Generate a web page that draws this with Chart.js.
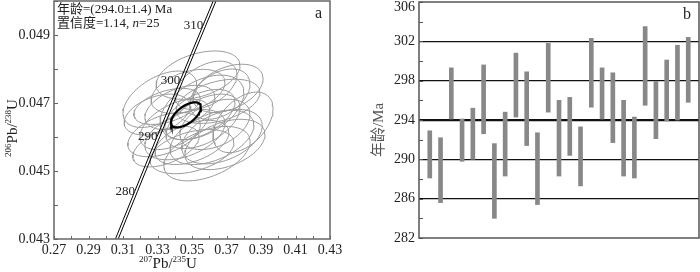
<!DOCTYPE html>
<html>
<head>
<meta charset="utf-8">
<script src="https://cdn.jsdelivr.net/npm/chart.js@4.4.1/dist/chart.umd.min.js"></script>
<style>
  html, body { margin: 0; padding: 0; background: #fff; }
  .wrap { display: flex; width: 700px; height: 272px; }
  .box { width: 350px; height: 272px; position: relative; }
</style>
</head>
<body>
<div class="wrap">
  <div class="box"><canvas id="concordiaChart" width="350" height="272"></canvas></div>
  <div class="box"><canvas id="ageChart" width="350" height="272"></canvas></div>
</div>
<script>
// ---- data: concordia panel (a) ----
// spot ellipses: centre 207Pb/235U, centre 206Pb/238U, half-width, half-height, correlation
const ellX  = [0.3314, 0.3535, 0.3581, 0.3709, 0.3796, 0.3587, 0.3674, 0.3338, 0.3297, 0.3349, 0.3500, 0.3558, 0.3546,
               0.3430, 0.3633, 0.3616, 0.3477, 0.3401, 0.3651, 0.3500, 0.3691, 0.3355, 0.3564, 0.3459, 0.3662];
const ellY  = [0.04711, 0.04782, 0.04752, 0.04743, 0.04643, 0.04551, 0.04601, 0.04607, 0.04666, 0.04572, 0.04557, 0.04687, 0.04666,
               0.04687, 0.04637, 0.04599, 0.04734, 0.04637, 0.04705, 0.04584, 0.04578, 0.04690, 0.04646, 0.04607, 0.04726];
const ellRx = [0.0214, 0.0243, 0.0180, 0.0203, 0.0174, 0.0250, 0.0233, 0.0210, 0.0190, 0.0192, 0.0243, 0.0243, 0.0203,
               0.0203, 0.0203, 0.0243, 0.0214, 0.0203, 0.0243, 0.0214, 0.0232, 0.0192, 0.0214, 0.0232, 0.0174];
const ellRy = [0.00083, 0.00071, 0.00071, 0.00071, 0.00089, 0.00080, 0.00080, 0.00065, 0.00060, 0.00060, 0.00065, 0.00095, 0.00074,
               0.00065, 0.00074, 0.00080, 0.00065, 0.00074, 0.00065, 0.00065, 0.00074, 0.00053, 0.00080, 0.00074, 0.00074];
const ellRho = [0.5, 0.4, 0.45, 0.4, 0.45, 0.45, 0.4, 0.45, 0.4, 0.5, 0.4, 0.45, 0.5,
                0.45, 0.4, 0.45, 0.4, 0.5, 0.4, 0.45, 0.4, 0.45, 0.5, 0.45, 0.4];
// weighted mean ellipse
const meanEll = { x: 0.3465, y: 0.04665, rx: 0.0087, ry: 0.00037, rho: 0.6 };

// concordia curve ages (Ma) and labelled ages
const concordiaAges = [260, 265, 270, 275, 280, 285, 290, 295, 300, 305, 310, 315, 320];
const ageMarks = [280, 290, 300, 310];
const lam238 = 1.55125e-4; // per Ma
const lam235 = 9.8485e-4;

// ---- data: age panel (b) ----
const spotNo  = [1, 2, 3, 4, 5, 6, 7, 8, 9, 10, 11, 12, 13, 14, 15, 16, 17, 18, 19, 20, 21, 22, 23, 24, 25];
const ageLow  = [288.1, 285.6, 294.1, 289.8, 290.0, 292.6, 284.0, 288.3, 294.3, 291.4, 285.4, 294.8, 288.3,
                 290.4, 287.3, 295.3, 294.1, 291.7, 288.3, 288.1, 295.5, 292.1, 293.9, 294.0, 295.8];
const ageHigh = [292.9, 292.2, 299.3, 294.1, 295.2, 299.6, 291.6, 294.8, 300.8, 298.9, 292.7, 301.8, 296.0,
                 296.3, 293.3, 302.3, 299.3, 298.8, 296.0, 294.3, 303.5, 297.9, 300.1, 301.6, 302.4];

const SERIF = '"Liberation Serif", "Noto Sans CJK SC", serif';
const TXT = '#222';

function ellipsePoints(cx, cy, rx, ry, rho) {
  const pts = [];
  const k = Math.sqrt(1 - rho * rho);
  for (let i = 0; i <= 72; i++) {
    const t = i / 72 * Math.PI * 2;
    pts.push({ x: cx + rx * Math.cos(t), y: cy + ry * (rho * Math.cos(t) + k * Math.sin(t)) });
  }
  return pts;
}

function concordia(t, dx) {
  return { x: Math.exp(lam235 * t) - 1 + dx, y: Math.exp(lam238 * t) - 1 };
}

// text with superscripts, parts = [[text, isSup], ...], centred at (x, y)
function drawRich(ctx, parts, x, y, size) {
  const big = size + 'px ' + SERIF, small = Math.round(size * 0.6) + 'px ' + SERIF;
  let w = 0;
  parts.forEach(p => { ctx.font = p[1] ? small : big; w += ctx.measureText(p[0]).width; });
  let cx = x - w / 2;
  ctx.textAlign = 'left';
  ctx.textBaseline = 'alphabetic';
  parts.forEach(p => {
    ctx.font = p[1] ? small : big;
    ctx.fillText(p[0], cx, p[1] ? y - size * 0.42 : y);
    cx += ctx.measureText(p[0]).width;
  });
}

// frame and inward tick marks
function drawFrame(chart, color, width) {
  const { ctx, chartArea: { left, top, right, bottom } } = chart;
  ctx.save();
  ctx.strokeStyle = color;
  ctx.lineWidth = width;
  ctx.strokeRect(left, top, right - left, bottom - top);
  ctx.lineWidth = 1;
  const ys = chart.scales.y;
  ys.ticks.forEach(t => {
    const py = Math.round(ys.getPixelForValue(t.value)) + 0.5;
    ctx.beginPath(); ctx.moveTo(left, py); ctx.lineTo(left + 4, py); ctx.stroke();
  });
  const xs = chart.scales.x;
  if (xs.options.display) {
    xs.ticks.forEach(t => {
      const px = Math.round(xs.getPixelForValue(t.value)) + 0.5;
      ctx.beginPath(); ctx.moveTo(px, bottom); ctx.lineTo(px, bottom - 3); ctx.stroke();
    });
  }
  ctx.restore();
}

// keep the plot area where the picture has it, whatever the labels need
function noPad(s) {
  s.paddingTop = 0; s.paddingBottom = 0; s.paddingLeft = 0; s.paddingRight = 0;
}

const concordiaDecor = {
  id: 'concordiaDecor',
  afterDraw(chart) {
    const { ctx, chartArea: { left, top, right } } = chart;
    const xs = chart.scales.x, ys = chart.scales.y;
    drawFrame(chart, '#666', 1.5);
    ctx.save();
    ctx.fillStyle = TXT;
    // age labels on concordia
    ctx.font = '13px ' + SERIF;
    ctx.textAlign = 'right';
    ctx.textBaseline = 'alphabetic';
    ageMarks.forEach(a => {
      const p = concordia(a, 0);
      ctx.fillText(String(a), xs.getPixelForValue(p.x) - 1, ys.getPixelForValue(p.y) + 3);
    });
    // result text
    ctx.textAlign = 'left';
    ctx.font = '13px ' + SERIF;
    ctx.fillText('年龄=(294.0±1.4) Ma', left + 3, top + 12);
    let x = left + 3;
    const s1 = '置信度=1.14, ';
    ctx.fillText(s1, x, top + 26);
    x += ctx.measureText(s1).width;
    ctx.font = 'italic 13px ' + SERIF;
    ctx.fillText('n', x, top + 26);
    x += ctx.measureText('n').width;
    ctx.font = '13px ' + SERIF;
    ctx.fillText('=25', x, top + 26);
    ctx.font = '16px ' + SERIF;
    ctx.fillText('a', right - 15, top + 17);
    // axis titles
    drawRich(ctx, [['207', true], ['Pb/', false], ['235', true], ['U', false]], 168, 268, 15);
    ctx.translate(12, 128);
    ctx.rotate(-Math.PI / 2);
    drawRich(ctx, [['206', true], ['Pb/', false], ['238', true], ['U', false]], 0, 5, 15);
    ctx.restore();
  }
};

const ageDecor = {
  id: 'ageDecor',
  afterDraw(chart) {
    const { ctx, chartArea: { left, right, top } } = chart;
    const ys = chart.scales.y;
    drawFrame(chart, '#555', 1.5);
    ctx.save();
    ctx.fillStyle = TXT;
    // top tick label sits just inside the canvas, as in the picture
    ctx.font = '14px ' + SERIF;
    ctx.textAlign = 'right';
    ctx.textBaseline = 'middle';
    ctx.fillText(String(ys.max), left - 4, 7);
    ctx.font = '16px ' + SERIF;
    ctx.textAlign = 'left';
    ctx.textBaseline = 'alphabetic';
    ctx.fillText('b', right - 16, top + 17);
    ctx.fillStyle = '#555';
    ctx.font = '15px ' + SERIF;
    ctx.textAlign = 'center';
    ctx.translate(33, 130);
    ctx.rotate(-Math.PI / 2);
    ctx.fillText('年龄/Ma', 0, 0);
    ctx.restore();
  }
};

// ---- panel a ----
const ellDatasets = ellX.map((cx, i) => ({
  data: ellipsePoints(cx, ellY[i], ellRx[i], ellRy[i], ellRho[i]),
  showLine: true, borderColor: '#9a9a9a', borderWidth: 1, pointRadius: 0, order: 3
}));

new Chart(document.getElementById('concordiaChart'), {
  type: 'scatter',
  data: {
    datasets: [
      { data: ellipsePoints(meanEll.x, meanEll.y, meanEll.rx, meanEll.ry, meanEll.rho),
        showLine: true, borderColor: '#000', borderWidth: 2.2, pointRadius: 0, order: 0 },
      { data: concordiaAges.map(t => concordia(t, -0.0008)),
        showLine: true, borderColor: '#000', borderWidth: 1, pointRadius: 0, order: 1 },
      { data: concordiaAges.map(t => concordia(t, 0.0008)),
        showLine: true, borderColor: '#000', borderWidth: 1, pointRadius: 0, order: 1 },
      ...ellDatasets
    ]
  },
  options: {
    responsive: false,
    animation: false,
    devicePixelRatio: 1,
    layout: { padding: { top: 1, right: 20, left: 0, bottom: 0 } },
    plugins: { legend: { display: false }, tooltip: { enabled: false } },
    scales: {
      x: {
        type: 'linear', min: 0.27, max: 0.43,
        afterFit: s => { s.height = 33; noPad(s); },
        grid: { display: false, drawTicks: false },
        border: { display: false },
        ticks: {
          stepSize: 0.01, autoSkip: false, maxTicksLimit: 100, maxRotation: 0, padding: 3,
          color: TXT, font: { family: SERIF, size: 14 },
          callback: v => (Math.round(v * 100) % 2 === 1 ? v.toFixed(2) : '')
        }
      },
      y: {
        type: 'linear', min: 0.043, max: 0.050,
        afterFit: s => { s.width = 54; noPad(s); },
        grid: { display: false, drawTicks: false },
        border: { display: false },
        ticks: {
          stepSize: 0.001, autoSkip: false, maxTicksLimit: 100, padding: 4,
          color: TXT, font: { family: SERIF, size: 14 },
          callback: v => (Math.round(v * 1000) % 2 === 1 ? v.toFixed(3) : '')
        }
      }
    }
  },
  plugins: [concordiaDecor]
});

// ---- panel b ----
new Chart(document.getElementById('ageChart'), {
  type: 'bar',
  data: {
    datasets: [{
      data: spotNo.map((n, i) => ({ x: n, y: [ageLow[i], ageHigh[i]] })),
      backgroundColor: '#888888',
      borderWidth: 0,
      barThickness: 4
    }]
  },
  options: {
    responsive: false,
    animation: false,
    devicePixelRatio: 1,
    layout: { padding: { top: 2, right: 1, left: 0, bottom: 34 } },
    plugins: { legend: { display: false }, tooltip: { enabled: false } },
    scales: {
      x: { type: 'linear', min: 0, max: 26, display: false, offset: false },
      y: {
        min: 282, max: 306,
        afterFit: s => { s.width = 69; noPad(s); },
        border: { display: false },
        grid: {
          drawTicks: false,
          color: c => ([286, 290, 294, 298, 302].includes(c.tick.value) ? '#111' : 'rgba(0,0,0,0)'),
          lineWidth: c => (c.tick.value === 294 ? 2.2 : 1.3)
        },
        ticks: {
          stepSize: 2, autoSkip: false, maxTicksLimit: 100, padding: 4,
          color: TXT, font: { family: SERIF, size: 14 },
          callback: v => ((v - 282) % 4 === 0 && v !== 306 ? String(v) : '')
        }
      }
    }
  },
  plugins: [ageDecor]
});
</script>
</body>
</html>
